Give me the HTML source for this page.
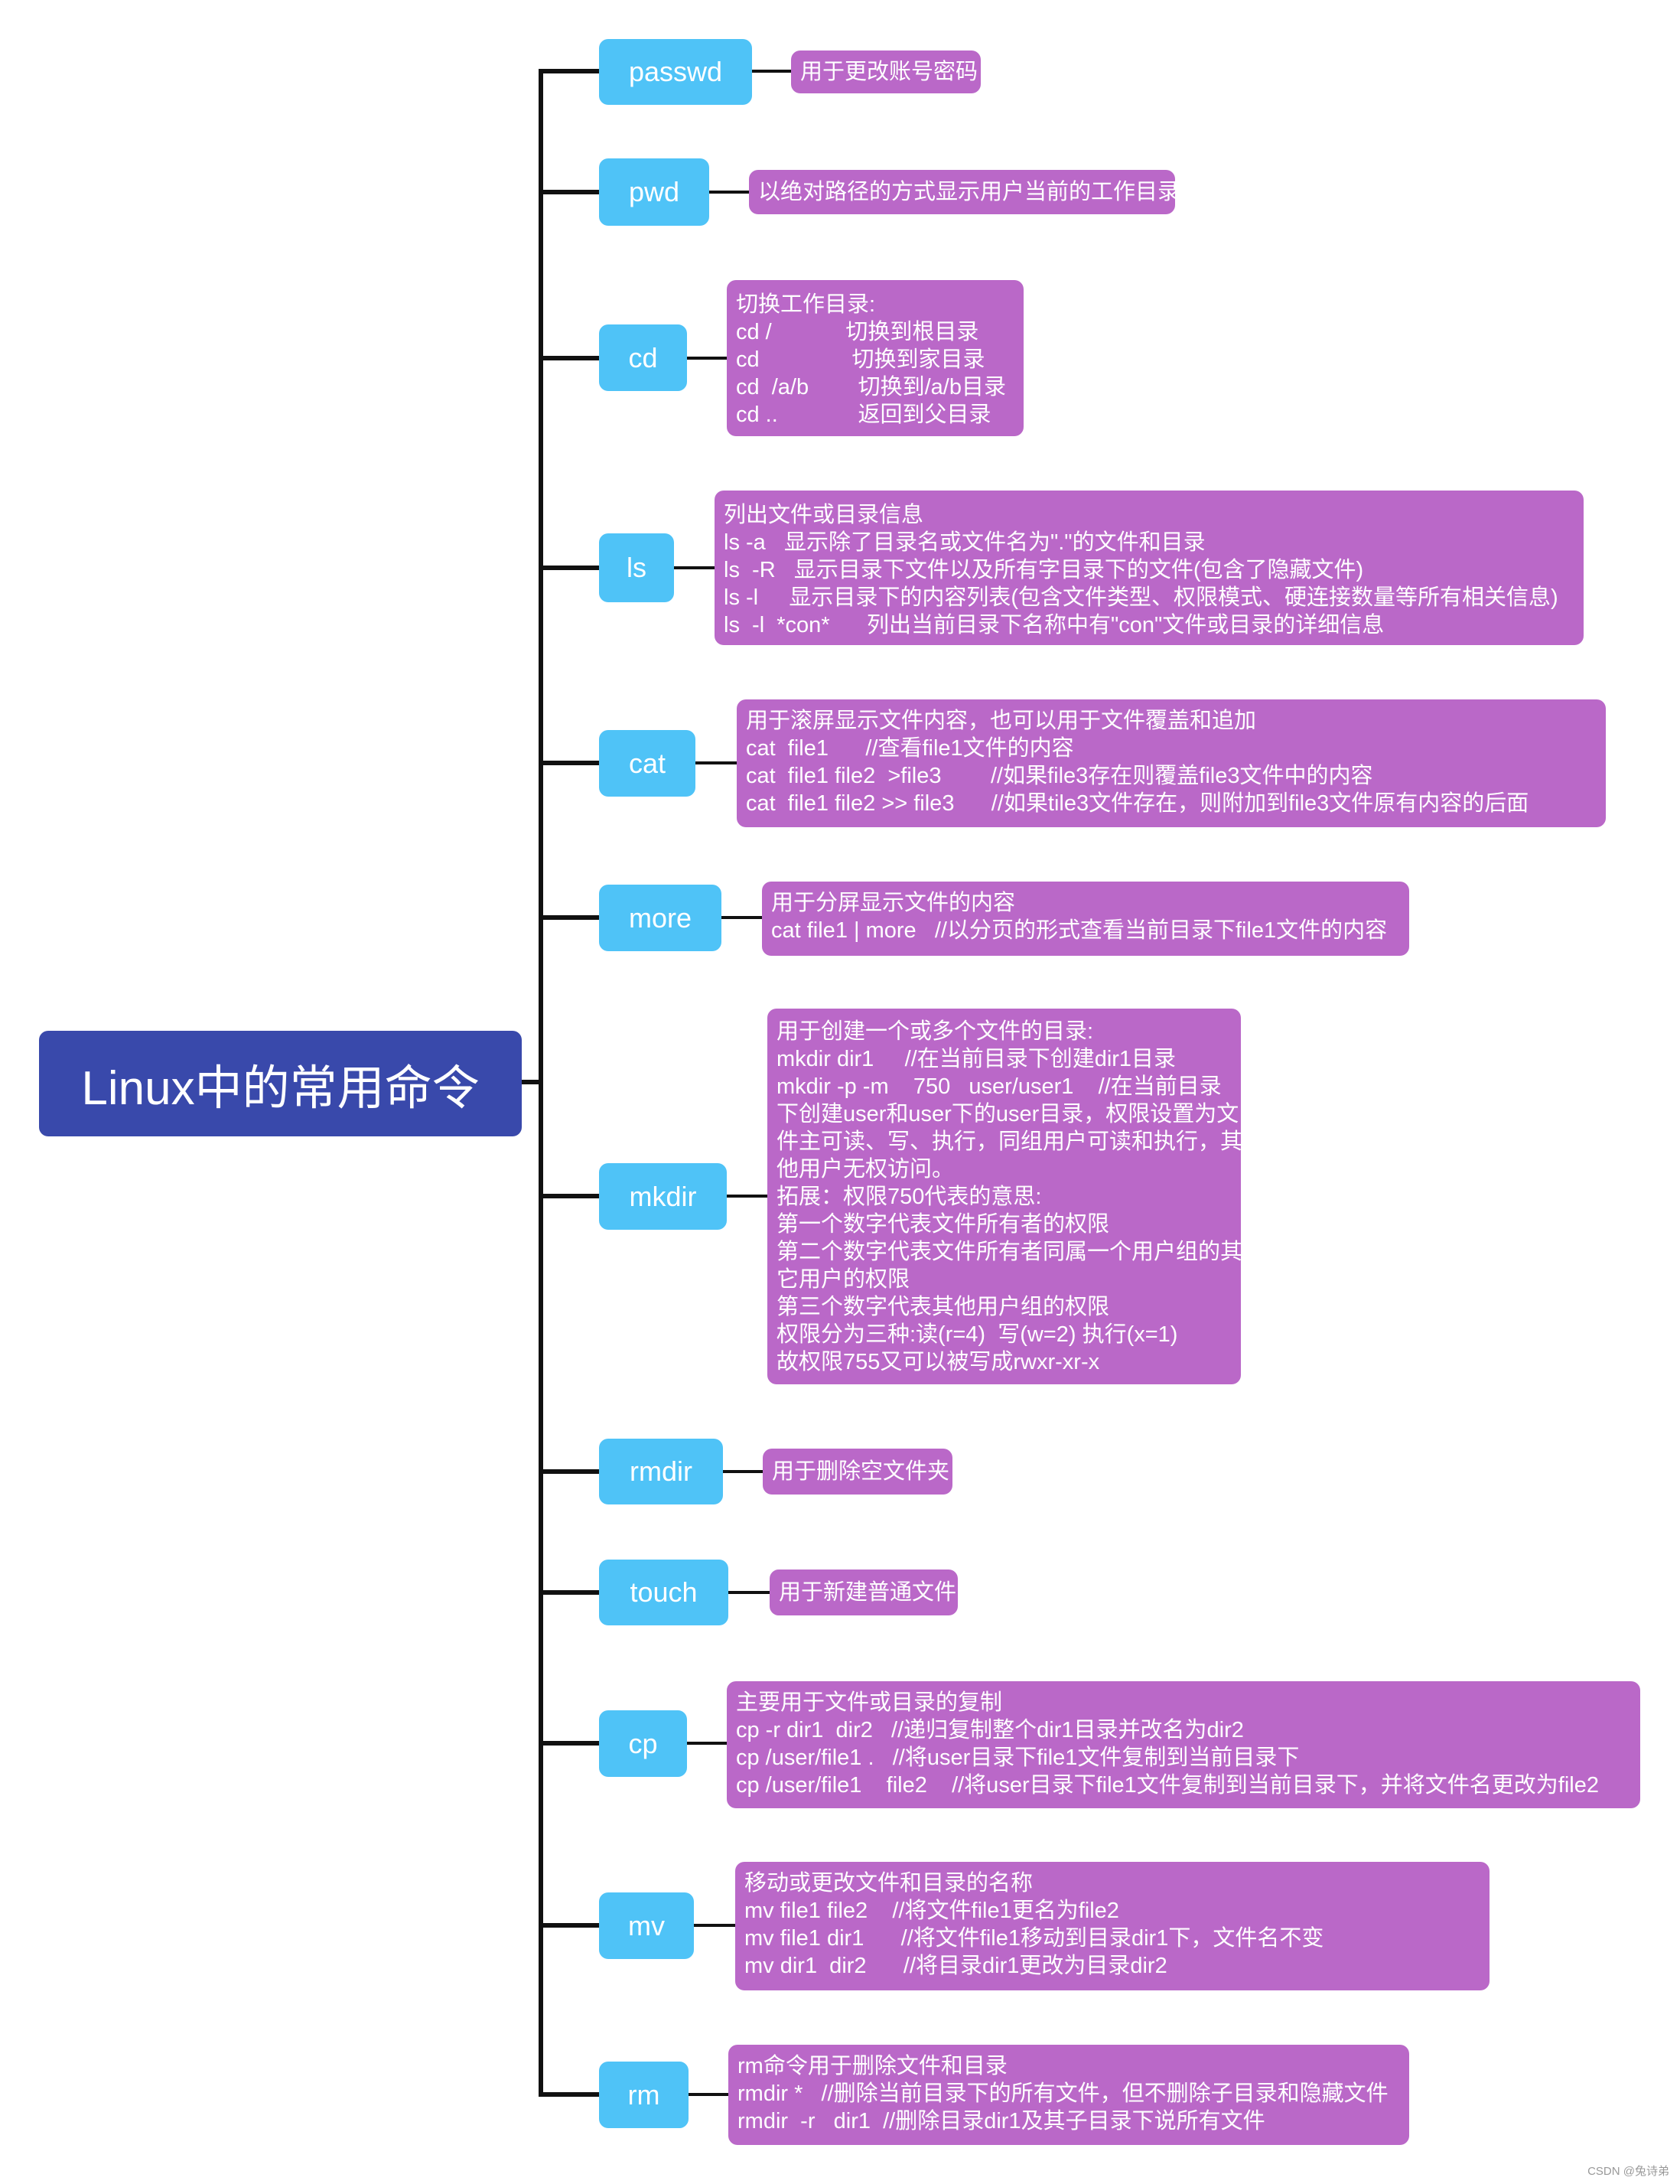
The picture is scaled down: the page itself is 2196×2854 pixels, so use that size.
<!DOCTYPE html>
<html><head><meta charset="utf-8"><style>
html,body{margin:0;padding:0;background:#fff;}
body{width:2196px;height:2854px;position:relative;overflow:hidden;font-family:"Liberation Sans","Noto Sans CJK SC",sans-serif;}
.l{position:absolute;background:#111;}
.b{position:absolute;left:783px;background:#4fc3f7;border-radius:12px;color:#fff;font-size:36px;display:flex;align-items:center;justify-content:center;}
.p{position:absolute;background:#ba68c8;border-radius:12px;color:#fff;font-size:29px;line-height:36px;white-space:pre;box-sizing:border-box;padding:14px 12px;overflow:hidden;}
.s{display:flex;align-items:center;padding:0 12px;}
</style></head><body>
<div class="l" style="left:704px;top:90px;width:6px;height:2650px"></div>
<div style="position:absolute;left:51px;top:1347px;width:631px;height:138px;background:#3949ab;border-radius:12px;color:#fff;font-size:62px;display:flex;align-items:center;justify-content:center;">Linux中的常用命令</div>
<div class="l" style="left:682px;top:1411px;width:24px;height:6px"></div>

<!-- passwd -->
<div class="l" style="left:706px;top:90px;width:77px;height:6px"></div>
<div class="b" style="top:51px;width:200px;height:86px">passwd</div>
<div class="l" style="left:983px;top:91px;width:51px;height:4px"></div>
<div class="p s" style="left:1034px;top:66px;width:248px;height:56px">用于更改账号密码</div>

<!-- pwd -->
<div class="l" style="left:706px;top:248px;width:77px;height:6px"></div>
<div class="b" style="top:207px;width:144px;height:88px">pwd</div>
<div class="l" style="left:927px;top:249px;width:52px;height:4px"></div>
<div class="p s" style="left:979px;top:222px;width:557px;height:58px">以绝对路径的方式显示用户当前的工作目录</div>

<!-- cd -->
<div class="l" style="left:706px;top:465px;width:77px;height:6px"></div>
<div class="b" style="top:424px;width:115px;height:87px">cd</div>
<div class="l" style="left:898px;top:466px;width:52px;height:4px"></div>
<div class="p" style="left:950px;top:366px;width:388px;height:204px">切换工作目录:
cd /            切换到根目录
cd               切换到家目录
cd  /a/b        切换到/a/b目录
cd ..             返回到父目录</div>

<!-- ls -->
<div class="l" style="left:706px;top:739px;width:77px;height:6px"></div>
<div class="b" style="top:697px;width:98px;height:90px">ls</div>
<div class="l" style="left:881px;top:740px;width:53px;height:4px"></div>
<div class="p" style="left:934px;top:641px;width:1136px;height:202px">列出文件或目录信息
ls -a   显示除了目录名或文件名为"."的文件和目录
ls  -R   显示目录下文件以及所有字目录下的文件(包含了隐藏文件)
ls -l     显示目录下的内容列表(包含文件类型、权限模式、硬连接数量等所有相关信息)
ls  -l  *con*      列出当前目录下名称中有"con"文件或目录的详细信息</div>

<!-- cat -->
<div class="l" style="left:706px;top:994px;width:77px;height:6px"></div>
<div class="b" style="top:954px;width:126px;height:87px">cat</div>
<div class="l" style="left:909px;top:995px;width:54px;height:4px"></div>
<div class="p" style="left:963px;top:914px;width:1136px;height:167px;padding-top:10px">用于滚屏显示文件内容，也可以用于文件覆盖和追加
cat  file1      //查看file1文件的内容
cat  file1 file2  >file3        //如果file3存在则覆盖file3文件中的内容
cat  file1 file2 >> file3      //如果tile3文件存在，则附加到file3文件原有内容的后面</div>

<!-- more -->
<div class="l" style="left:706px;top:1196px;width:77px;height:6px"></div>
<div class="b" style="top:1156px;width:160px;height:87px">more</div>
<div class="l" style="left:943px;top:1197px;width:53px;height:4px"></div>
<div class="p" style="left:996px;top:1152px;width:846px;height:97px;padding-top:10px">用于分屏显示文件的内容
cat file1 | more   //以分页的形式查看当前目录下file1文件的内容</div>

<!-- mkdir -->
<div class="l" style="left:706px;top:1560px;width:77px;height:6px"></div>
<div class="b" style="top:1520px;width:167px;height:87px">mkdir</div>
<div class="l" style="left:950px;top:1561px;width:53px;height:4px"></div>
<div class="p" style="left:1003px;top:1318px;width:619px;height:491px;padding-top:12px">用于创建一个或多个文件的目录:
mkdir dir1     //在当前目录下创建dir1目录
mkdir -p -m    750   user/user1    //在当前目录
下创建user和user下的user目录，权限设置为文
件主可读、写、执行，同组用户可读和执行，其
他用户无权访问。
拓展：权限750代表的意思:
第一个数字代表文件所有者的权限
第二个数字代表文件所有者同属一个用户组的其
它用户的权限
第三个数字代表其他用户组的权限
权限分为三种:读(r=4)  写(w=2) 执行(x=1)
故权限755又可以被写成rwxr-xr-x</div>

<!-- rmdir -->
<div class="l" style="left:706px;top:1920px;width:77px;height:6px"></div>
<div class="b" style="top:1880px;width:162px;height:86px">rmdir</div>
<div class="l" style="left:945px;top:1921px;width:52px;height:4px"></div>
<div class="p s" style="left:997px;top:1893px;width:248px;height:60px">用于删除空文件夹</div>

<!-- touch -->
<div class="l" style="left:706px;top:2078px;width:77px;height:6px"></div>
<div class="b" style="top:2038px;width:169px;height:86px">touch</div>
<div class="l" style="left:952px;top:2079px;width:54px;height:4px"></div>
<div class="p s" style="left:1006px;top:2051px;width:246px;height:60px">用于新建普通文件</div>

<!-- cp -->
<div class="l" style="left:706px;top:2275px;width:77px;height:6px"></div>
<div class="b" style="top:2235px;width:115px;height:87px">cp</div>
<div class="l" style="left:898px;top:2276px;width:52px;height:4px"></div>
<div class="p" style="left:950px;top:2197px;width:1194px;height:166px;padding-top:10px">主要用于文件或目录的复制
cp -r dir1  dir2   //递归复制整个dir1目录并改名为dir2
cp /user/file1 .   //将user目录下file1文件复制到当前目录下
cp /user/file1    file2    //将user目录下file1文件复制到当前目录下，并将文件名更改为file2</div>

<!-- mv -->
<div class="l" style="left:706px;top:2513px;width:77px;height:6px"></div>
<div class="b" style="top:2473px;width:124px;height:87px">mv</div>
<div class="l" style="left:907px;top:2514px;width:54px;height:4px"></div>
<div class="p" style="left:961px;top:2433px;width:986px;height:168px;padding-top:10px">移动或更改文件和目录的名称
mv file1 file2    //将文件file1更名为file2
mv file1 dir1      //将文件file1移动到目录dir1下，文件名不变
mv dir1  dir2      //将目录dir1更改为目录dir2</div>

<!-- rm -->
<div class="l" style="left:706px;top:2734px;width:77px;height:6px"></div>
<div class="b" style="top:2694px;width:117px;height:87px">rm</div>
<div class="l" style="left:900px;top:2735px;width:52px;height:4px"></div>
<div class="p" style="left:952px;top:2672px;width:890px;height:131px;padding-top:10px">rm命令用于删除文件和目录
rmdir *   //删除当前目录下的所有文件，但不删除子目录和隐藏文件
rmdir  -r   dir1  //删除目录dir1及其子目录下说所有文件</div>

<div style="position:absolute;right:14px;top:2826px;font-size:15px;color:#999;">CSDN @兔诗弟</div>
</body></html>
